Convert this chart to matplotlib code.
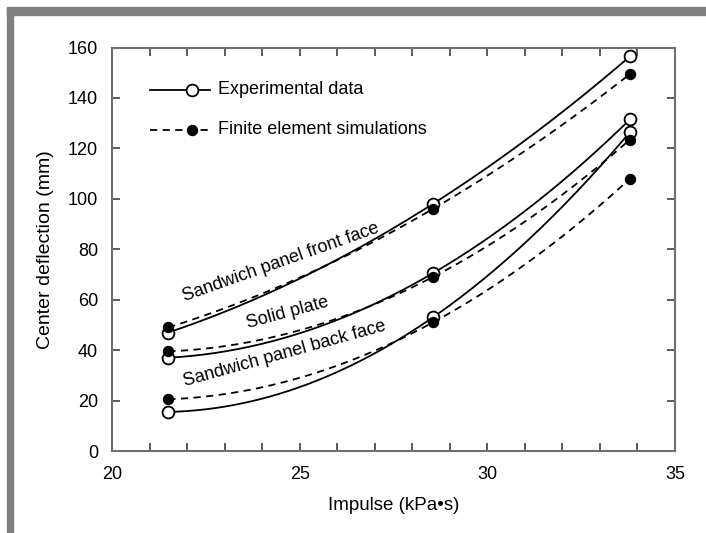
import numpy as np
import matplotlib.pyplot as plt
from matplotlib.patches import Rectangle

plt.rcParams['font.family'] = ['Liberation Sans', 'DejaVu Sans']

# impulse (kPa*s)
impulse = [21.5, 28.55, 33.8]

# experimental data (open circles)
exp_front = [47, 98, 156.5]
exp_solid = [37, 70.5, 131.5]
exp_back = [15.5, 53, 126.5]

# finite element simulations (filled dots)
fe_front = [49, 96, 149.5]
fe_solid = [39.5, 69, 123.5]
fe_back = [20.5, 51, 108]

curve_labels = ["Sandwich panel front face", "Solid plate", "Sandwich panel back face"]

fig = plt.figure(figsize=(7.06, 5.33), dpi=100)
ax = fig.add_axes([0.1586, 0.1538, 0.7975, 0.757])

# grey frame round the picture
fig.patches.append(Rectangle((0.010, 0.0), 0.009, 0.985, transform=fig.transFigure,
                             color='#808080', zorder=0))
fig.patches.append(Rectangle((0.010, 0.972), 0.99, 0.014, transform=fig.transFigure,
                             color='#808080', zorder=0))

xs = np.linspace(min(impulse), max(impulse), 200)


def smooth(y):
    c = np.polyfit(impulse, y, 2)
    return np.polyval(c, xs)


for y in [exp_front, exp_solid, exp_back]:
    ax.plot(xs, smooth(y), color='black', lw=1.3, zorder=2)
    ax.plot(impulse, y, 'o', ms=8.5, mfc='white', mec='black', mew=1.3, zorder=4)

for y in [fe_front, fe_solid, fe_back]:
    ax.plot(xs, smooth(y), color='black', lw=1.3, ls=(0, (4, 3)), zorder=2)
    ax.plot(impulse, y, 'o', ms=7.2, mfc='black', mec='black', zorder=5)

# labels along the curves
ax.text(21.9, 61.0, curve_labels[0], rotation=19.5, rotation_mode='anchor',
        ha='left', va='center', fontsize=13)
ax.text(23.6, 50.5, curve_labels[1], rotation=15, rotation_mode='anchor',
        ha='left', va='center', fontsize=13)
ax.text(21.9, 27.5, curve_labels[2], rotation=15.5, rotation_mode='anchor',
        ha='left', va='center', fontsize=13)

# hand made legend
tr = ax.transAxes
ax.plot([0.0675, 0.174], [0.895, 0.895], color='black', lw=1.3, transform=tr)
ax.plot([0.142], [0.895], 'o', ms=8.5, mfc='white', mec='black', mew=1.3, transform=tr)
ax.text(0.188, 0.895, "Experimental data", transform=tr, va='center', fontsize=13)
ax.plot([0.0675, 0.174], [0.796, 0.796], color='black', lw=1.3, ls=(0, (4, 3)), transform=tr)
ax.plot([0.142], [0.796], 'o', ms=7.2, mfc='black', mec='black', transform=tr)
ax.text(0.188, 0.796, "Finite element simulations", transform=tr, va='center', fontsize=13)

ax.set_xlim(20, 35)
ax.set_ylim(0, 160)
ax.set_xticks([20, 25, 30, 35])
ax.set_xticks(np.arange(20, 36, 1), minor=True)
ax.set_yticks(np.arange(0, 161, 20))
ax.tick_params(which='both', direction='in', top=True, right=True, length=6,
               width=1.2, color='#404040', labelsize=13)
ax.tick_params(axis='x', pad=11)
ax.tick_params(axis='y', pad=10)

for s in ax.spines.values():
    s.set_color('#707070')
    s.set_linewidth(1.5)

ax.set_xlabel("Impulse (kPa\u2022s)", fontsize=13.5, labelpad=10)
ax.set_ylabel("Center deflection (mm)", fontsize=14, labelpad=10)

fig.savefig("out.png", dpi=100)
